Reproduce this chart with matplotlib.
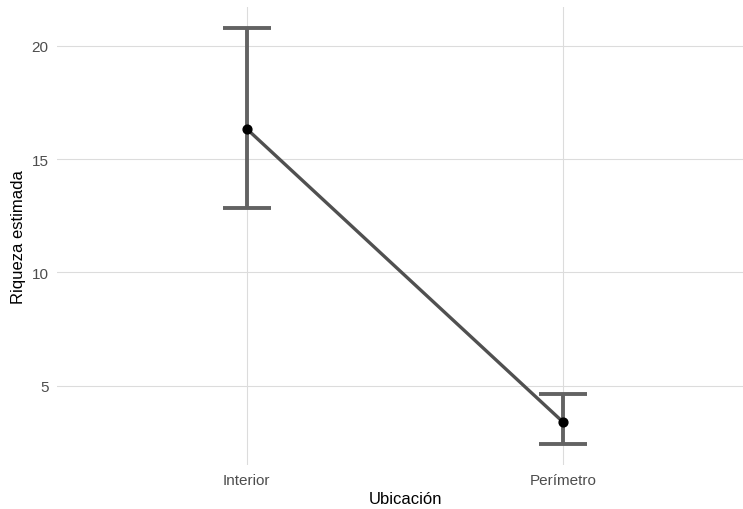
import numpy as np
import matplotlib.pyplot as plt

plt.rcParams['font.family'] = ['Liberation Sans', 'DejaVu Sans']

ubicacion = ['Interior', 'Perímetro']
riqueza = [16.33, 3.39]
ic_inf = [12.82, 2.42]
ic_sup = [20.79, 4.63]

fig = plt.figure(figsize=(7.43, 5.10), dpi=100)
# panel runs slightly past the right edge like the original
ax = fig.add_axes([57 / 743, 44 / 510, 696 / 743, 458 / 510])

x = np.arange(1, len(ubicacion) + 1)
y = np.array(riqueza)
err = [y - np.array(ic_inf), np.array(ic_sup) - y]

ax.errorbar(x, y, yerr=err, fmt='none', ecolor='#636363', elinewidth=2.8,
            capsize=17.5, capthick=2.8, zorder=3)
ax.plot(x, y, color='#505050', lw=2.4, zorder=4)
ax.scatter(x, y, s=40, color='black', zorder=5)

ax.set_xlim(0.4, 2.6)
lo, hi = min(ic_inf), max(ic_sup)
pad = (hi - lo) * 0.05
ax.set_ylim(lo - pad, hi + pad)

ax.set_xticks(x)
ax.set_xticklabels(ubicacion)
ax.set_yticks([5, 10, 15, 20])

for s in ax.spines.values():
    s.set_visible(False)
ax.grid(True, color='#dcdcdc', lw=0.8)
ax.set_axisbelow(True)
ax.tick_params(length=0, labelsize=11, colors='#4d4d4d', pad=6)
ax.set_xlabel('Ubicación', fontsize=12, color='black', labelpad=3)
ax.set_ylabel('Riqueza estimada', fontsize=12, color='black', labelpad=4)

fig.savefig('out.png', dpi=100)
